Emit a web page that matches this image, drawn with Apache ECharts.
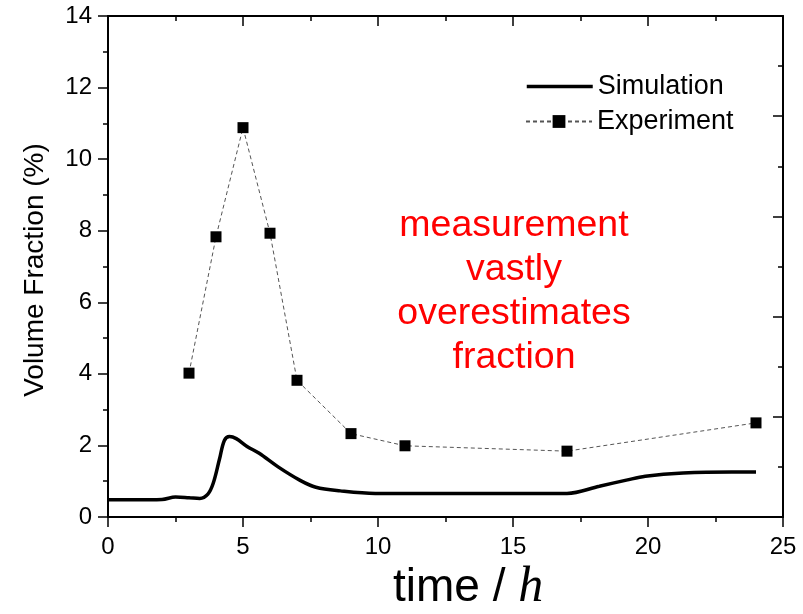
<!DOCTYPE html>
<html>
<head>
<meta charset="utf-8">
<script src="https://cdn.jsdelivr.net/npm/echarts@6/dist/echarts.min.js"></script>
<style>html,body{margin:0;padding:0;background:#fff;}#c{width:803px;height:614px;}</style>
</head>
<body>
<div id="c"></div>
<script>
const simX = [0, 1, 2, 2.5, 3, 3.4, 3.7, 3.9, 4.13, 4.31, 4.5, 4.75, 5.15, 5.6, 6.3, 7.1, 7.7, 8.6, 9.9, 12, 14.5, 17, 18.2, 19.2, 19.9, 21.3, 23.1, 24];
const simY = [0.48, 0.48, 0.49, 0.56, 0.54, 0.52, 0.64, 0.95, 1.62, 2.14, 2.25, 2.19, 1.97, 1.78, 1.40, 1.03, 0.83, 0.73, 0.66, 0.66, 0.66, 0.66, 0.86, 1.03, 1.14, 1.23, 1.26, 1.26];
const expX = [3, 4, 5, 6, 7, 9, 11, 17, 24];
const expY = [4.02, 7.83, 10.88, 7.93, 3.82, 2.33, 1.99, 1.84, 2.63];
const annotation = ['measurement', 'vastly', 'overestimates', 'fraction'];

const FONT = 'Liberation Sans, Arial, Helvetica, sans-serif';
const chart = echarts.init(document.getElementById('c'), null, {renderer: 'canvas'});
const axisLine = {show: true, onZero: false, lineStyle: {color: '#000', width: 2}};

const option = {
  animation: false,
  backgroundColor: '#fff',
  grid: {left: 108, right: 20, top: 16, bottom: 97, containLabel: false},
  xAxis: [
    {type: 'value', min: 0, max: 25, interval: 5, position: 'bottom',
     axisLine: axisLine,
     axisTick: {show: true, inside: false, length: 10, lineStyle: {color: '#000', width: 1.5}},
     minorTick: {show: true, splitNumber: 2, length: 5, lineStyle: {color: '#000', width: 1.5}},
     splitLine: {show: false},
     axisLabel: {color: '#000', fontSize: 24, fontFamily: FONT, margin: 18}},
    {type: 'value', min: 0, max: 25, interval: 5, position: 'top',
     axisLine: axisLine,
     axisTick: {show: true, inside: true, length: 10, lineStyle: {color: '#000', width: 1.5}},
     minorTick: {show: true, splitNumber: 2, length: 5, lineStyle: {color: '#000', width: 1.5}},
     splitLine: {show: false},
     axisLabel: {show: false}}
  ],
  yAxis: [
    {type: 'value', min: 0, max: 14, interval: 2, position: 'left',
     axisLine: axisLine,
     axisTick: {show: true, inside: false, length: 10, lineStyle: {color: '#000', width: 1.5}},
     minorTick: {show: true, splitNumber: 2, length: 5, lineStyle: {color: '#000', width: 1.5}},
     splitLine: {show: false},
     axisLabel: {color: '#000', fontSize: 24, fontFamily: FONT, margin: 16}},
    {type: 'value', min: 0, max: 5, interval: 1, position: 'right',
     axisLine: axisLine,
     axisTick: {show: true, inside: true, length: 10, lineStyle: {color: '#000', width: 1.5}},
     minorTick: {show: true, splitNumber: 2, length: 5, lineStyle: {color: '#000', width: 1.5}},
     splitLine: {show: false},
     axisLabel: {show: false}}
  ],
  legend: [
    {data: ['Simulation'], orient: 'vertical', left: 520, top: 68, itemWidth: 66, itemHeight: 14,
     itemStyle: {color: 'rgba(0,0,0,0)', borderColor: 'rgba(0,0,0,0)', borderWidth: 0},
     lineStyle: {width: 3.5, color: '#000'},
     textStyle: {color: '#000', fontSize: 27, fontFamily: FONT, lineHeight: 26}},
    {data: ['Experiment'], orient: 'vertical', left: 520, top: 103, itemWidth: 66, itemHeight: 16,
     textStyle: {color: '#000', fontSize: 27, fontFamily: FONT, lineHeight: 26}}
  ],
  series: [
    {name: 'Simulation', type: 'line', xAxisIndex: 0, yAxisIndex: 0,
     data: simX.map((x, i) => [x, simY[i]]),
     smooth: 0.35, symbol: 'none', showSymbol: false,
     lineStyle: {color: '#000', width: 3.5}, itemStyle: {color: '#000'}, z: 2},
    {name: 'Experiment', type: 'line', xAxisIndex: 0, yAxisIndex: 0,
     data: expX.map((x, i) => [x, expY[i]]),
     symbol: 'rect', symbolSize: 11,
     lineStyle: {color: '#555', width: 1, type: [4, 3]},
     itemStyle: {color: '#000'}, z: 3}
  ],
  graphic: [
    {type: 'text', x: 35, y: 270, rotation: Math.PI / 2,
     style: {text: 'Volume Fraction (%)', fill: '#000', font: '28px ' + FONT, textAlign: 'center', textVerticalAlign: 'middle'}},
    {type: 'text', left: 393, top: 563,
     style: {rich: {a: {fontSize: 46, fontFamily: FONT, fill: '#000'}, b: {fontSize: 50, fontFamily: 'Liberation Serif, Times New Roman, serif', fontStyle: 'italic', fill: '#000'}},
             text: '{a|time / }{b|h}'}}
  ].concat(annotation.map((t, i) => ({
    type: 'text', x: 514, y: 226 + i * 44,
    style: {text: t, fill: '#ff0000', font: '37.5px ' + FONT, textAlign: 'center', textVerticalAlign: 'middle'}
  })))
};
chart.setOption(option);
</script>
</body>
</html>
